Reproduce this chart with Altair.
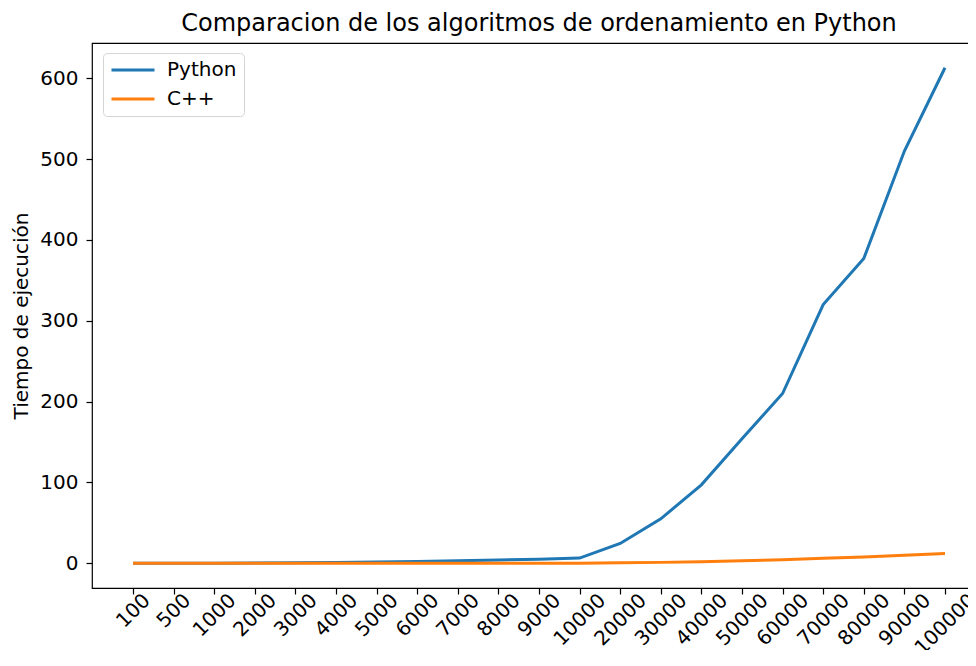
import altair as alt
import pandas as pd

sizes = ["100", "500", "1000", "2000", "3000", "4000", "5000", "6000", "7000",
         "8000", "9000", "10000", "20000", "30000", "40000", "50000", "60000",
         "70000", "80000", "90000", "100000"]
python_times = [0.0006, 0.016, 0.06, 0.25, 0.57, 1.0, 1.6, 2.3, 3.1, 4.0, 5.1,
                6.4, 24.5, 55.0, 97.0, 154.0, 210.0, 320.0, 377.0, 510.0, 613.0]
cpp_times = [0.0, 0.0003, 0.001, 0.005, 0.011, 0.02, 0.03, 0.044, 0.06, 0.08, 0.1,
             0.12, 0.49, 1.1, 1.95, 3.05, 4.4, 6.2, 7.9, 9.9, 12.1]
series = ["Python", "C++"]
colors = ["#1f77b4", "#ff7f0e"]
y_ticks = [0, 100, 200, 300, 400, 500, 600]

rows = []
for name, vals in zip(series, [python_times, cpp_times]):
    for s, v in zip(sizes, vals):
        rows.append({"n": s, "t": v, "lang": name})
df = pd.DataFrame(rows)

FONT = "DejaVu Sans"

label_offset = {
    "condition": [
        {"test": "length(datum.label) == 3", "value": 13.5},
        {"test": "length(datum.label) == 4", "value": 18},
        {"test": "length(datum.label) == 5", "value": 22.5},
    ],
    "value": 27,
}

chart = alt.Chart(df).mark_line(strokeWidth=3, clip=False).encode(
    x=alt.X("n:O", sort=sizes,
            scale=alt.Scale(type="point", range=[41, 853], padding=0),
            axis=alt.Axis(title=None, domain=False, ticks=True, tickSize=6,
                          tickWidth=1.2, tickColor="black",
                          labelAngle=-45, labelAlign="right", labelBaseline="middle",
                          labelOffset=label_offset, labelPadding=3,
                          labelFont=FONT, labelFontSize=20, labelColor="black",
                          labelOverlap=False, labelBound=False, labelFlush=False,
                          grid=False)),
    y=alt.Y("t:Q",
            scale=alt.Scale(domain=[-30.6, 643.6], nice=False, zero=False),
            axis=alt.Axis(title="Tiempo de ejecución", values=y_ticks, domain=False,
                          tickSize=6, tickWidth=1.2, tickColor="black",
                          labelPadding=8, labelFont=FONT, labelFontSize=20,
                          labelColor="black", grid=False,
                          titleFont=FONT, titleFontSize=20, titleFontWeight="normal",
                          titleColor="black", titlePadding=8)),
    color=alt.Color("lang:N", sort=series,
                    scale=alt.Scale(domain=series, range=colors),
                    legend=alt.Legend(title=None, orient="none", legendX=11, legendY=10,
                                      symbolType="stroke", symbolSize=1849,
                                      symbolStrokeWidth=3, clipHeight=20, rowPadding=9,
                                      labelFont=FONT, labelFontSize=20, labelColor="black",
                                      labelOffset=11, padding=7,
                                      strokeColor="#d4d4d4", fillColor="white",
                                      cornerRadius=4)),
).properties(
    width=884,
    height=545,
    background="white",
    title=alt.TitleParams("Comparacion de los algoritmos de ordenamiento en Python",
                          font=FONT, fontSize=24, fontWeight="normal", color="black",
                          anchor="middle", baseline="alphabetic", offset=12, dx=5, dy=24),
    autosize=alt.AutoSizeParams(type="none"),
    padding={"left": 84, "top": 35, "right": -8, "bottom": 62},
).configure_view(
    stroke="black", strokeWidth=1.2
)

chart.save("out.html", embed_options={"renderer": "svg", "actions": False})
